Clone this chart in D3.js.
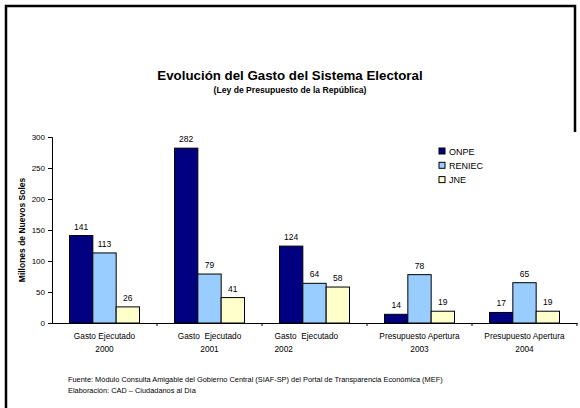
<!DOCTYPE html>
<html><head><meta charset="utf-8">
<script src="https://cdn.jsdelivr.net/npm/d3@7"></script>
<style>body{margin:0;background:#fff}svg{display:block;font-family:"Liberation Sans",Arial,sans-serif}</style>
</head><body><svg id="c" width="580" height="408"></svg>
<script>
const categories = ["Gasto Ejecutado 2000","Gasto  Ejecutado 2001","Gasto  Ejecutado 2002","Presupuesto Apertura 2003","Presupuesto Apertura 2004"];
const catLines = [["Gasto Ejecutado","2000"],["Gasto  Ejecutado","2001"],["Gasto  Ejecutado","2002"],["Presupuesto Apertura","2003"],["Presupuesto Apertura","2004"]];
const seriesNames = ["ONPE","RENIEC","JNE"];
const ONPE = [141,282,124,14,17];
const RENIEC = [113,79,64,78,65];
const JNE = [26,41,58,19,19];
const yTicks = [0,50,100,150,200,250,300];
const colors = ["#000080","#99CCFF","#FFFFCC"];
const values = [ONPE,RENIEC,JNE];

const svg = d3.select("#c");
// frame
svg.append("path").attr("d","M6,408 V6 H575 V132").attr("fill","none").attr("stroke","#000").attr("stroke-width",2.5);

svg.append("text").attr("x",290).attr("y",80).attr("text-anchor","middle")
  .attr("font-weight","bold").attr("font-size",13.3).text("Evolución del Gasto del Sistema Electoral");
svg.append("text").attr("x",290).attr("y",93).attr("text-anchor","middle")
  .attr("font-weight","bold").attr("font-size",8.6).text("(Ley de Presupuesto de la República)");

const x0 = d3.scaleBand().domain(d3.range(categories.length)).range([52,577]).paddingInner(0).paddingOuter(0);
const x1 = d3.scaleBand().domain(seriesNames).range([17.5, x0.bandwidth()-17.5]);
const y = d3.scaleLinear().domain([0,300]).range([323,137]);

// y axis
const yAxis = d3.axisLeft(y).tickValues(yTicks).tickSize(4).tickPadding(3);
const gy = svg.append("g").attr("transform","translate(52,0)").call(yAxis);
gy.selectAll("text").attr("font-size",8).attr("font-family","Liberation Sans, Arial, sans-serif").attr("fill","#000");
gy.selectAll("line,path").attr("stroke","#000");

// bars
const g = svg.append("g");
seriesNames.forEach((s,si)=>{
  g.selectAll(null).data(values[si]).enter().append("rect")
    .attr("x",(d,i)=>x0(i)+x1(s)).attr("y",d=>y(d))
    .attr("width",x1.bandwidth()).attr("height",d=>y(0)-y(d))
    .attr("fill",colors[si]).attr("stroke","#000").attr("stroke-width",1);
  g.selectAll(null).data(values[si]).enter().append("text")
    .attr("x",(d,i)=>x0(i)+x1(s)+x1.bandwidth()/2).attr("y",d=>y(d)-6)
    .attr("text-anchor","middle").attr("font-size",8.5).text(d=>d);
});

// x axis
const xAxis = d3.axisBottom(x0).tickValues([]).tickSizeOuter(0);
const gx = svg.append("g").attr("transform","translate(0,323)").call(xAxis);
gx.select("path").attr("stroke","#000");
gx.selectAll(".b").data(d3.range(1,categories.length+1)).enter().append("line")
  .attr("x1",i=>x0.range()[0]+i*x0.bandwidth()).attr("x2",i=>x0.range()[0]+i*x0.bandwidth())
  .attr("y1",0).attr("y2",3).attr("stroke","#000");

catLines.forEach((ln,i)=>{
  const cx = x0(i)+x0.bandwidth()/2;
  const left = i===2;
  ln.forEach((t,j)=>{
    svg.append("text").attr("x",left? cx-40 : cx).attr("y",339+j*12.5)
      .attr("text-anchor",left?"start":"middle").attr("font-size",8.3)
      .attr("xml:space","preserve").style("white-space","pre").text(t);
  });
});

// y title
svg.append("text").attr("transform","translate(25,230) rotate(-90)").attr("text-anchor","middle")
  .attr("font-weight","bold").attr("font-size",8.5).text("Millones de Nuevos Soles");

// legend
seriesNames.forEach((s,i)=>{
  const ly = 151 + i*14.3;
  svg.append("rect").attr("x",439).attr("y",ly-3).attr("width",6).attr("height",6)
    .attr("fill",colors[i]).attr("stroke","#000").attr("stroke-width",1);
  svg.append("text").attr("x",449).attr("y",ly+3.5).attr("font-size",9).text(s);
});

// footnotes
svg.append("text").attr("x",68).attr("y",382).attr("font-size",7.4)
  .text("Fuente: Módulo Consulta Amigable del Gobierno Central (SIAF-SP) del Portal de Transparencia Económica (MEF)");
svg.append("text").attr("x",68).attr("y",393).attr("font-size",7.4)
  .text("Elaboración: CAD – Ciudadanos al Día");
</script></body></html>
